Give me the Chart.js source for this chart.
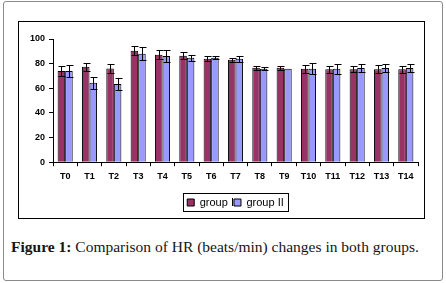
<!DOCTYPE html>
<html>
<head>
<meta charset="utf-8">
<script src="https://cdn.jsdelivr.net/npm/chart.js@4.4.1/dist/chart.umd.min.js"></script>
<style>
  html, body { margin: 0; padding: 0; background: #fff; }
  body { width: 446px; height: 283px; position: relative; overflow: hidden; }
  #marco { position: absolute; left: 3px; top: 1px; width: 438px; height: 278px; border: 1px solid #8a8a8a; border-radius: 3px; }
  #caja { position: absolute; left: 18px; top: 21px; width: 405px; height: 196px; border: 1px solid #000; }
  #caja canvas { display: block; }
  #pie { position: absolute; left: 11px; top: 238px; font-family: "Liberation Serif", "DejaVu Serif", serif; font-size: 15.5px; color: #151515; white-space: nowrap; }
  #pie b { font-weight: bold; }
</style>
</head>
<body>
<div id="marco"></div>
<div id="caja"><canvas id="myChart" width="405" height="196"></canvas></div>
<div id="pie"><b>Figure 1:</b> Comparison of HR (beats/min) changes in both groups.</div>
<script>
// categorias y valores
const tiempos = ["T0", "T1", "T2", "T3", "T4", "T5", "T6", "T7", "T8", "T9", "T10", "T11", "T12", "T13", "T14"];
const grupo1 = [74, 77.4, 76, 90.5, 87.2, 86.5, 84, 83.2, 76.6, 76.6, 75.8, 75.5, 75.5, 75.5, 75.5];
const grupo2 = [74, 64.5, 63.5, 88, 86.1, 84.8, 84.8, 84, 75.8, 75.8, 75.8, 75.8, 76.4, 76.4, 76.4];
// desviacion (+/-) de cada barra
const error1 = [4, 3.3, 3.8, 3.8, 3.8, 2.6, 2.1, 1.6, 1.5, 1.8, 3.3, 2.9, 2.6, 3.3, 2.9];
const error2 = [4.6, 5, 4.7, 5.4, 5, 2.6, 1.3, 2.3, 1.2, 0, 4.6, 4.3, 3.3, 3.3, 3.3];
const ticksY = [0, 20, 40, 60, 80, 100];

// Dibuja las barras de error sobre cada barra
const barrasError = {
    id: 'barrasError',
    afterDatasetsDraw(chart) {
        const ctx = chart.ctx;
        const y = chart.scales.y;
        const errores = [error1, error2];
        ctx.save();
        ctx.strokeStyle = '#000';
        ctx.lineWidth = 1;
        chart.data.datasets.forEach((ds, d) => {
            const meta = chart.getDatasetMeta(d);
            meta.data.forEach((bar, i) => {
                const e = errores[d][i];
                if (!e) return;
                const x = Math.round(bar.x) + 0.5;
                const arriba = Math.round(y.getPixelForValue(ds.data[i] + e)) + 0.5;
                const abajo = Math.round(y.getPixelForValue(ds.data[i] - e)) + 0.5;
                ctx.beginPath();
                ctx.moveTo(x, arriba); ctx.lineTo(x, abajo);
                ctx.moveTo(x - 3, arriba); ctx.lineTo(x + 4, arriba);
                ctx.moveTo(x - 3, abajo); ctx.lineTo(x + 4, abajo);
                ctx.stroke();
            });
        });
        ctx.restore();
    },
    afterDraw(chart) {
        // marco de la leyenda
        const l = chart.legend;
        const ctx = chart.ctx;
        ctx.save();
        ctx.strokeStyle = '#000';
        ctx.lineWidth = 1;
        const it = l.legendHitBoxes;
        if (it && it.length) {
            const x0 = it[0].left - 4, x1 = it[it.length - 1].left + it[it.length - 1].width + 4;
            const y0 = it[0].top - 4, y1 = it[0].top + it[0].height + 3;
            ctx.strokeRect(Math.round(x0) + 0.5, Math.round(y0) + 0.5, Math.round(x1 - x0), Math.round(y1 - y0));
        }
        ctx.restore();
    }
};

const ctx = document.getElementById('myChart').getContext('2d');
const myChart = new Chart(ctx, {
    type: 'bar',
    data: {
        labels: tiempos,
        datasets: [{
            label: 'group I',
            data: grupo1,
            backgroundColor: '#993366',
            borderColor: '#000',
            borderWidth: 1,
            borderSkipped: 'bottom'
        }, {
            label: 'group II',
            data: grupo2,
            backgroundColor: '#9999FF',
            borderColor: '#000',
            borderWidth: 1,
            borderSkipped: 'bottom'
        }]
    },
    options: {
        responsive: false,
        animation: false,
        categoryPercentage: 0.62,
        barPercentage: 1,
        layout: { padding: { top: 17, right: 6, left: 0, bottom: 0 } },
        plugins: {
            tooltip: { enabled: false },
            legend: {
                position: 'bottom',
                fullSize: false,
                labels: {
                    boxWidth: 7,
                    boxHeight: 7,
                    padding: 0,
                    color: '#000',
                    font: { family: 'Arial, "Liberation Sans", sans-serif', size: 11 }
                }
            }
        },
        scales: {
            x: {
                afterFit: (s) => { s.height += 10; },
                grid: { drawOnChartArea: false, drawTicks: true, tickLength: 4, color: '#000' },
                border: { color: '#000' },
                ticks: {
                    color: '#000',
                    padding: 5,
                    autoSkip: false,
                    maxRotation: 0,
                    font: { family: 'Arial, "Liberation Sans", sans-serif', size: 9, weight: 'bold' }
                }
            },
            y: {
                min: 0,
                max: 100,
                afterBuildTicks: (s) => { s.ticks = ticksY.map(v => ({ value: v })); },
                afterFit: (s) => { s.width = 34; },
                grid: { drawOnChartArea: false, drawTicks: true, tickLength: 4, color: '#000' },
                border: { color: '#000' },
                ticks: {
                    color: '#000',
                    padding: 4,
                    font: { family: 'Arial, "Liberation Sans", sans-serif', size: 9, weight: 'bold' }
                }
            }
        }
    },
    plugins: [barrasError]
});
</script>
</body>
</html>
